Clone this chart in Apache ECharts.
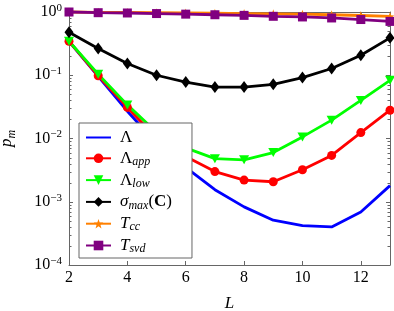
<!DOCTYPE html>
<html>
<head>
<meta charset="utf-8">
<script src="https://cdn.jsdelivr.net/npm/echarts@6/dist/echarts.min.js"></script>
<style>
html,body{margin:0;padding:0;background:#fff;}
#c{width:394px;height:311px;}
</style>
</head>
<body>
<div id="c"></div>
<script>
// ---- data ----
const L = [2, 3, 4, 5, 6, 7, 8, 9, 10, 11, 12, 13];
const lambda    = [0.345, 0.096, 0.027, 0.0084, 0.0035, 0.00155, 0.00083, 0.00051, 0.00042, 0.00040, 0.00069, 0.0018];
const lambdaApp = [0.345, 0.098, 0.031, 0.0103, 0.0052, 0.0030, 0.0022, 0.00207, 0.0032, 0.0054, 0.0124, 0.028];
const lambdaLow = [0.345, 0.104, 0.034, 0.0126, 0.0071, 0.0048, 0.0046, 0.0060, 0.0106, 0.0195, 0.040, 0.083];
const sigmaMax  = [0.48, 0.264, 0.153, 0.100, 0.078, 0.065, 0.065, 0.072, 0.092, 0.128, 0.207, 0.39];
const tcc       = [1.0, 0.99, 0.985, 0.975, 0.965, 0.955, 0.945, 0.935, 0.925, 0.905, 0.88, 0.85];
const tsvd      = [1.0, 0.975, 0.965, 0.945, 0.925, 0.905, 0.885, 0.855, 0.835, 0.805, 0.76, 0.71];
const xTicks = [2, 4, 6, 8, 10, 12];
const yTickExponents = [-4, -3, -2, -1, 0];
const minorTicks = [];
for (let e = -4; e < 0; e++) for (let m = 2; m <= 9; m++) minorTicks.push(m * Math.pow(10, e));

const X_MIN = 2, X_MAX = 13, Y_MIN = 1e-4, Y_MAX = 1;
const FONT = 'Liberation Serif';
const AX = '#666';

const legendText = {
  'Lambda': '{g|Λ}',
  'LambdaApp': '{g|Λ}{sub|app}',
  'LambdaLow': '{g|Λ}{sub|low}',
  'SigmaMax': '{i|σ}{sub|max}{g|(}{b|C}{g|)}',
  'Tcc': '{i|T}{sub|cc}',
  'Tsvd': '{i|T}{sub|svd}'
};

function pairs(arr) { return L.map((x, i) => [x, arr[i]]); }

const starPath = 'path://M0,-10 L2.35,-3.24 L9.51,-3.09 L3.80,1.24 L5.88,8.09 L0,4 L-5.88,8.09 L-3.80,1.24 L-9.51,-3.09 L-2.35,-3.24 Z';

function lineSeries(name, data, color, symbol, size, rotate) {
  return {
    name: name, type: 'line', data: pairs(data),
    symbol: symbol, symbolSize: size, symbolRotate: rotate || 0,
    showSymbol: symbol !== 'none',
    clip: false,
    lineStyle: { color: color, width: 2.8 },
    itemStyle: { color: color, borderWidth: 0 },
    emphasis: { disabled: true },
    animation: false
  };
}

const supRich = {
  n: { fontFamily: FONT, fontSize: 16, lineHeight: 16, color: '#000' },
  sup: { fontFamily: FONT, fontSize: 11, lineHeight: 10, padding: [0, 0, 8, 0], color: '#000' }
};

const chart = echarts.init(document.getElementById('c'), null, { renderer: 'canvas' });
chart.setOption({
  animation: false,
  backgroundColor: '#fff',
  grid: { left: 69, right: 4, top: 12, bottom: 46, containLabel: false, outerBoundsMode: 'none' },
  xAxis: [{
    type: 'value', min: X_MIN, max: X_MAX, interval: 2,
    name: 'L', nameLocation: 'middle', nameGap: 30,
    nameTextStyle: { fontFamily: FONT, fontSize: 17, fontStyle: 'italic', color: '#000' },
    axisLine: { show: true, lineStyle: { color: AX, width: 1 } },
    axisTick: { show: true, inside: true, length: 4, lineStyle: { color: AX } },
    axisLabel: { margin: 5, fontFamily: FONT, fontSize: 16, color: '#000',
      formatter: v => (xTicks.indexOf(v) >= 0 ? String(v) : '') },
    splitLine: { show: false }
  }, {
    type: 'value', position: 'top', min: X_MIN, max: X_MAX, interval: 2,
    axisLine: { show: true, lineStyle: { color: AX, width: 1 } },
    axisTick: { show: true, inside: true, length: 4, lineStyle: { color: AX } },
    axisLabel: { show: false }, splitLine: { show: false }
  }],
  yAxis: [{
    type: 'log', logBase: 10, min: Y_MIN, max: Y_MAX,
    name: '{i|p}{sub|m}', nameLocation: 'middle', nameGap: 54, nameRotate: 90,
    nameTextStyle: { rich: {
      i: { fontFamily: FONT, fontSize: 17, fontStyle: 'italic', lineHeight: 16, color: '#000' },
      sub: { fontFamily: FONT, fontSize: 12, fontStyle: 'italic', lineHeight: 11, padding: [9, 0, 0, 0], color: '#000' }
    } },
    axisLine: { show: true, lineStyle: { color: AX, width: 1 } },
    axisTick: { show: true, inside: true, length: 4, lineStyle: { color: AX } },
    axisLabel: { margin: 7, rich: supRich,
      formatter: v => {
        const e = Math.round(Math.log10(v));
        if (yTickExponents.indexOf(e) < 0) return '';
        return '{n|10}{sup|' + (e < 0 ? '\u2212' + (-e) : e) + '}';
      } },
    splitLine: { show: false }
  }, {
    type: 'log', logBase: 10, min: Y_MIN, max: Y_MAX, position: 'right',
    axisLine: { show: true, lineStyle: { color: AX, width: 1 } },
    axisTick: { show: true, inside: true, length: 4, lineStyle: { color: AX } },
    axisLabel: { show: false }, splitLine: { show: false }
  }],
  legend: {
    data: [
      { name: 'Lambda', itemStyle: { opacity: 0 } },
      'LambdaApp', 'LambdaLow', 'SigmaMax', 'Tcc', 'Tsvd'
    ],
    orient: 'vertical', left: 79, top: 123,
    backgroundColor: '#fff', borderColor: AX, borderWidth: 1, borderRadius: 0,
    padding: [6, 20, 3, 6],
    itemWidth: 25, itemHeight: 12, itemGap: 2.8,
    formatter: name => legendText[name],
    textStyle: {
      padding: [0, 0, 0, 4],
      rich: {
        g: { fontFamily: FONT, fontSize: 17, lineHeight: 16, color: '#000' },
        i: { fontFamily: FONT, fontSize: 17, fontStyle: 'italic', lineHeight: 16, color: '#000' },
        b: { fontFamily: FONT, fontSize: 17, fontWeight: 'bold', lineHeight: 16, color: '#000' },
        sub: { fontFamily: FONT, fontSize: 12, fontStyle: 'italic', lineHeight: 9, padding: [7, 0, 0, 0], color: '#000' }
      }
    }
  },
  series: [
    lineSeries('Lambda', lambda, '#0000ff', 'none', 0),
    lineSeries('LambdaApp', lambdaApp, '#ff0000', 'circle', 9),
    lineSeries('LambdaLow', lambdaLow, '#00ff00', 'triangle', [10, 9], 180),
    lineSeries('SigmaMax', sigmaMax, '#000000', 'diamond', [9, 12]),
    lineSeries('Tcc', tcc, '#ff8000', starPath, 9),
    lineSeries('Tsvd', tsvd, '#800080', 'rect', 9),
    {
      type: 'custom', name: 'minorTicks', silent: true, clip: false,
      data: minorTicks.map(v => [X_MIN, v]),
      encode: { x: 0, y: 1 },
      renderItem: function (params, api) {
        const v = api.value(1);
        const pl = api.coord([X_MIN, v]);
        const pr = api.coord([X_MAX, v]);
        const st = { stroke: AX, lineWidth: 1 };
        return { type: 'group', children: [
          { type: 'line', shape: { x1: pl[0], y1: Math.round(pl[1]) + 0.5, x2: pl[0] + 2.5, y2: Math.round(pl[1]) + 0.5 }, style: st },
          { type: 'line', shape: { x1: pr[0] - 2.5, y1: Math.round(pr[1]) + 0.5, x2: pr[0], y2: Math.round(pr[1]) + 0.5 }, style: st }
        ] };
      },
      z: 1
    }
  ]
});
</script>
</body>
</html>
